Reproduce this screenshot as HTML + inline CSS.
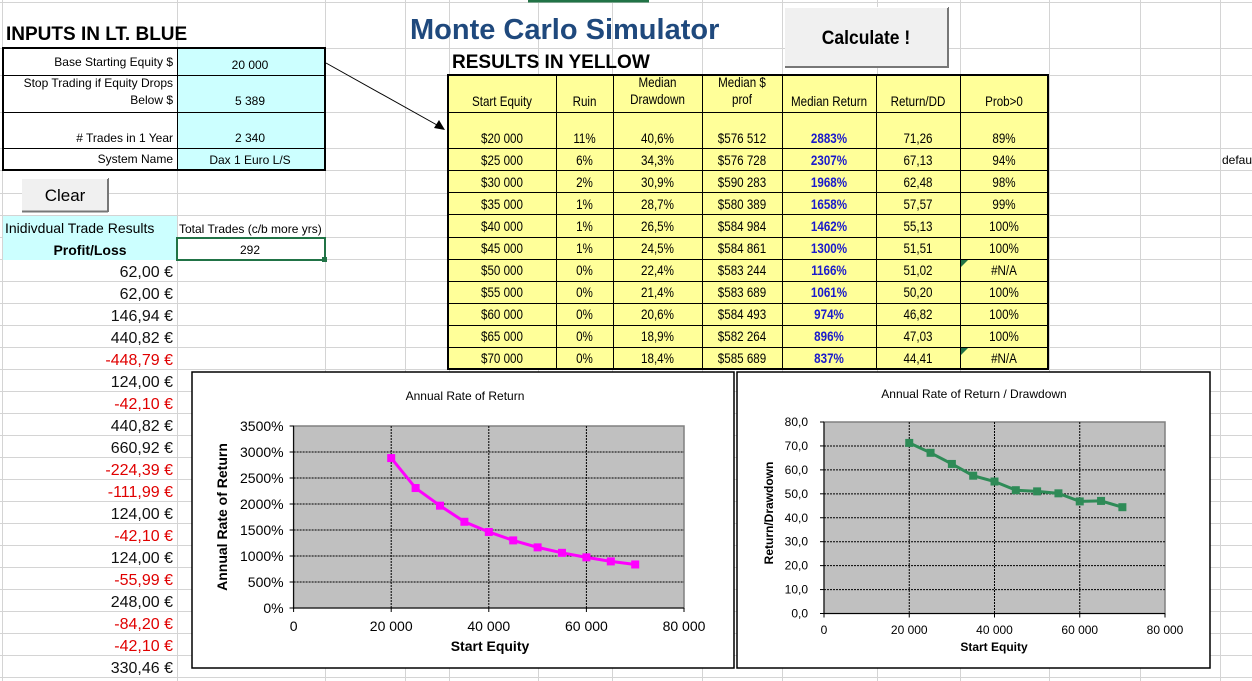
<!DOCTYPE html>
<html><head><meta charset="utf-8">
<style>
html,body{margin:0;padding:0;background:#fff;}
svg{display:block;font-family:"Liberation Sans",Arial,sans-serif;}
</style></head>
<body>
<svg id="s" width="1252" height="681" viewBox="0 0 1252 681" xmlns="http://www.w3.org/2000/svg"></svg>
<script>
var s=document.getElementById('s');var h='';
function L(x1,y1,x2,y2,c,w,extra){h+='<line x1="'+x1+'" y1="'+y1+'" x2="'+x2+'" y2="'+y2+'" stroke="'+c+'" stroke-width="'+(w||1)+'" '+(extra||'')+'/>';}
function R(x,y,w,hh,f,st,sw){h+='<rect x="'+x+'" y="'+y+'" width="'+w+'" height="'+hh+'" fill="'+f+'"'+(st?' stroke="'+st+'" stroke-width="'+(sw||1)+'"':'')+'/>';}
function T(x,y,t,sz,a,extra){h+='<text x="'+x+'" y="'+y+'" font-size="'+sz+'" text-anchor="'+(a||'start')+'" '+(extra||'')+'>'+t+'</text>';}
var vx=[2,177,325,405,449,538,612,702,782,877,960,1049,1140,1220];
var hy=[2,48,75,112,148,170,193,215,237,259];
for(var y=281;y<681;y+=22)hy.push(y);
vx.forEach(function(x){L(x+.5,0,x+.5,681,'#d4d4d4');});
hy.forEach(function(y){L(0,y+.5,1252,y+.5,'#d4d4d4');});
L(528,1,649,1,'#217346',3);
T(6,40,'INPUTS IN LT. BLUE',19,'start','font-weight="bold"');
R(3,48,174,122,'#fff');R(177,48,148,122,'#ccffff');
[75,112,148].forEach(function(y){L(3,y+.5,325,y+.5,'#000');});
L(177.5,48,177.5,170,'#000');
R(3,48,322,122,'none','#000',2);
T(173,66,'Base Starting Equity $',12,'end');
T(173,87,'Stop Trading if Equity Drops',12,'end');
T(173,104,'Below $',12,'end');
T(173,142,'# Trades in 1 Year',12,'end');
T(173,163,'System Name',12,'end');
T(250,69,'20 000',12,'middle');T(250,105,'5 389',12,'middle');T(250,142,'2 340',12,'middle');T(250,164,'Dax 1 Euro L/S',12,'middle');
L(326,63,437,125,'#000',1);
h+='<polygon points="445,130 434,128 439,120" fill="#000"/>';
R(22,178,86,33,'#f0f0f0');L(22,211.5,108,211.5,'#777',2);L(108,178,108,212,'#777',2);L(22,178.5,108,178.5,'#fff');
T(65,201,'Clear',17,'middle');
R(3,216,174,22,'#ccffff');R(3,238,174,22,'#ccffff');
T(5,233,'Inidivdual Trade Results',14);
T(179,233,'Total Trades (c/b more yrs)',12);
T(90,255,'Profit/Loss',14,'middle','font-weight="bold"');
R(177,238,148,22,'#fff','#217346',2);R(322,257,5,5,'#217346');
T(250,254,'292',12,'middle');
var pl=['62,00 €','62,00 €','146,94 €','440,82 €','-448,79 €','124,00 €','-42,10 €','440,82 €','660,92 €','-224,39 €','-111,99 €','124,00 €','-42,10 €','124,00 €','-55,99 €','248,00 €','-84,20 €','-42,10 €','330,46 €'];
pl.forEach(function(v,i){T(173,277+22*i,v,16,'end','fill="'+(v[0]=='-'?'#e00000':'#111')+'"');});
T(410,39,'Monte Carlo Simulator',29,'start','font-weight="bold" fill="#1f497d"');
R(785,7,163,60,'#f0f0f0');L(785,67,948,67,'#777',2);L(948,7,948,68,'#777',2);L(785,7.5,948,7.5,'#fff');
T(866,44,'Calculate !',19,'middle','font-weight="bold" transform="translate(866,0) scale(0.92,1) translate(-866,0)"');
T(452,68,'RESULTS IN YELLOW',19,'start','font-weight="bold"');
var cx=[448,556,613,702,782,876,960,1048];
R(448,75,600,294,'#ffff99');
var rows=[112,148,170,192,214,237,259,281,303,325,347];
rows.forEach(function(y){L(448,y+.5,1048,y+.5,'#000');});
cx.forEach(function(x){L(x+.5,75,x+.5,369,'#000');});
R(448,75,600,294,'none','#000',2);
var sc=0.86;
function TN(x,y,t,c,b){h+='<text x="'+(x/sc)+'" y="'+y+'" font-size="13.5" text-anchor="middle" transform="scale('+sc+',1)" fill="'+(c||'#000')+'"'+(b?' font-weight="bold"':'')+'>'+t+'</text>';}
var mid=[];for(var i=0;i<7;i++)mid.push((cx[i]+cx[i+1])/2);
TN(mid[0],106,'Start Equity');TN(mid[1],106,'Ruin');TN(mid[2],87,'Median');TN(mid[2],104,'Drawdown');
TN(mid[3],87,'Median $');TN(mid[3],104,'prof');TN(mid[4],106,'Median Return');TN(mid[5],106,'Return/DD');TN(mid[6],106,'Prob&gt;0');
var data=[['$20 000','11%','40,6%','$576 512','2883%','71,26','89%'],['$25 000','6%','34,3%','$576 728','2307%','67,13','94%'],['$30 000','2%','30,9%','$590 283','1968%','62,48','98%'],['$35 000','1%','28,7%','$580 389','1658%','57,57','99%'],['$40 000','1%','26,5%','$584 984','1462%','55,13','100%'],['$45 000','1%','24,5%','$584 861','1300%','51,51','100%'],['$50 000','0%','22,4%','$583 244','1166%','51,02','#N/A'],['$55 000','0%','21,4%','$583 689','1061%','50,20','100%'],['$60 000','0%','20,6%','$584 493','974%','46,82','100%'],['$65 000','0%','18,9%','$582 264','896%','47,03','100%'],['$70 000','0%','18,4%','$585 689','837%','44,41','#N/A']];
data.forEach(function(r,i){var y=(i==0?143:165+22*(i-1));r.forEach(function(v,j){TN(mid[j],y,v,j==4?'#1a1acc':'#000',j==4);});if(r[6]=='#N/A'){var ty=rows[i]+1;h+='<polygon points="961,'+ty+' 968,'+ty+' 961,'+(ty+7)+'" fill="#217346"/>';}});
T(1222,164,'defau',12);
R(192,372,542,296,'#fff','#000',1.5);
T(465,400,'Annual Rate of Return',12,'middle');
var px0=293.6,px1=684,py0=608,py1=426;
R(px0,py1,px1-px0,py0-py1,'#c0c0c0','#808080',1.5);
for(var k=1;k<7;k++){var yy=py0-(py0-py1)*k/7;L(px0,yy,px1,yy,'#000',1,'stroke-dasharray="2,1"');}
for(var k=1;k<4;k++){var xx=px0+(px1-px0)*k/4;L(xx,py1,xx,py0,'#000',1,'stroke-dasharray="2,1"');}
L(px0,py1,px0,py0+1,'#000');L(px0-4,py0,px1,py0,'#000');
for(var k=0;k<=7;k++){var yy=py0-(py0-py1)*k/7;L(px0-4,yy,px0,yy,'#000');T(px0-10,yy+5,(k*500)+'%',14,'end');}
['0','20 000','40 000','60 000','80 000'].forEach(function(t,k){var xx=px0+(px1-px0)*k/4;L(xx,py0,xx,py0+4,'#000');T(xx,631,t,14,'middle');});
T(490,651,'Start Equity',14,'middle','font-weight="bold"');
T(0,0,'Annual Rate of Return',14,'middle','font-weight="bold" transform="translate(227,517) rotate(-90)"');
var v1=[2883,2307,1968,1658,1462,1300,1166,1061,974,896,837];
var pts=v1.map(function(v,i){return [px0+(20000+5000*i)/80000*(px1-px0),py0-v/3500*(py0-py1)];});
h+='<polyline points="'+pts.map(function(p){return p.join(',')}).join(' ')+'" fill="none" stroke="#ff00ff" stroke-width="3"/>';
pts.forEach(function(p){R(p[0]-4,p[1]-4,8,8,'#ff00ff');});
R(737,372,473,296,'#fff','#000',1.5);
T(974,398,'Annual Rate of Return / Drawdown',12,'middle');
var qx0=824,qx1=1165,qy0=613.5,qy1=422;
R(qx0,qy1,qx1-qx0,qy0-qy1,'#c0c0c0','#808080',1.5);
for(var k=1;k<8;k++){var yy=qy0-(qy0-qy1)*k/8;L(qx0,yy,qx1,yy,'#000',1,'stroke-dasharray="2,1"');}
for(var k=1;k<4;k++){var xx=qx0+(qx1-qx0)*k/4;L(xx,qy1,xx,qy0,'#000',1,'stroke-dasharray="2,1"');}
L(qx0,qy1,qx0,qy0+1,'#000');L(qx0-4,qy0,qx1,qy0,'#000');
for(var k=0;k<=8;k++){var yy=qy0-(qy0-qy1)*k/8;L(qx0-4,yy,qx0,yy,'#000');T(qx0-16,yy+4,(k*10)+',0',12,'end');}
['0','20 000','40 000','60 000','80 000'].forEach(function(t,k){var xx=qx0+(qx1-qx0)*k/4;L(xx,qy0,xx,qy0+4,'#000');T(xx,634,t,12,'middle');});
T(994,651,'Start Equity',12,'middle','font-weight="bold"');
T(0,0,'Return/Drawdown',12,'middle','font-weight="bold" transform="translate(773,513) rotate(-90)"');
var v2=[71.26,67.13,62.48,57.57,55.13,51.51,51.02,50.20,46.82,47.03,44.41];
var q=v2.map(function(v,i){return [qx0+(20000+5000*i)/80000*(qx1-qx0),qy0-v/80*(qy0-qy1)];});
h+='<polyline points="'+q.map(function(p){return p.join(',')}).join(' ')+'" fill="none" stroke="#2e8b57" stroke-width="3"/>';
q.forEach(function(p){R(p[0]-4,p[1]-4,8,8,'#2e8b57');});
s.innerHTML=h;
</script>
</body></html>
